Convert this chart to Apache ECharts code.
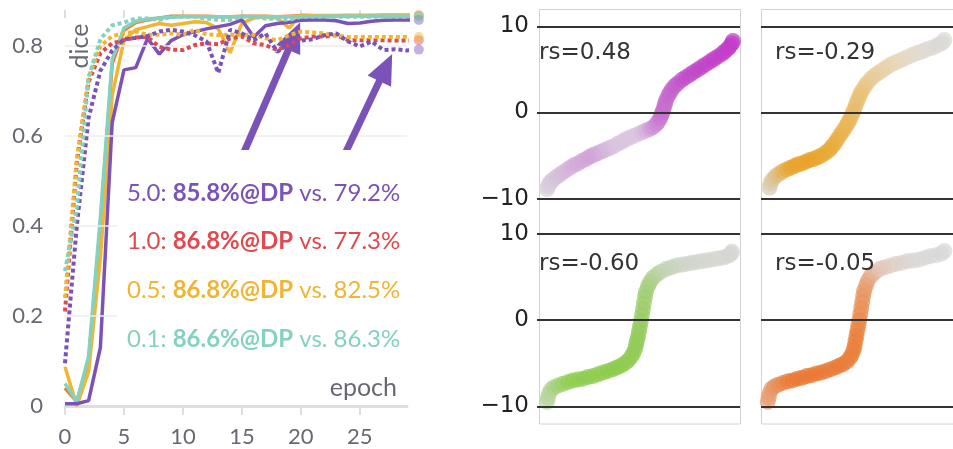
<!DOCTYPE html>
<html>
<head>
<meta charset="utf-8">
<script src="https://cdn.jsdelivr.net/npm/echarts@6/dist/echarts.min.js"></script>
<style>
  html, body { margin: 0; padding: 0; background: #fff; }
  #chart { width: 953px; height: 449px; }
</style>
</head>
<body>
<div id="chart"></div>
<script>
// ---------- training curves (dice per epoch) ----------
const epochs = [0,1,2,3,4,5,6,7,8,9,10,11,12,13,14,15,16,17,18,19,20,21,22,23,24,25,26,27,28,29,30];
const xTicks = [0, 5, 10, 15, 20, 25];
const yTicks = [0, 0.2, 0.4, 0.6, 0.8];

// weight 5.0
const dp50   = [0.005,0.005,0.012,0.13,0.63,0.747,0.752,0.817,0.782,0.812,0.825,0.832,0.838,0.843,0.848,0.858,0.82,0.845,0.85,0.853,0.857,0.858,0.858,0.856,0.85,0.851,0.855,0.857,0.858,0.858,0.858];
const base50 = [0.095,0.40,0.64,0.745,0.79,0.815,0.818,0.822,0.832,0.836,0.832,0.824,0.81,0.74,0.836,0.828,0.813,0.828,0.787,0.805,0.812,0.815,0.824,0.828,0.81,0.799,0.81,0.791,0.793,0.79,0.792];
// weight 1.0
const dp10   = [0.04,0.01,0.10,0.40,0.76,0.835,0.852,0.858,0.862,0.866,0.866,0.866,0.866,0.865,0.865,0.866,0.866,0.866,0.865,0.866,0.867,0.867,0.867,0.867,0.868,0.868,0.868,0.868,0.868,0.868,0.868];
const base10 = [0.21,0.54,0.72,0.784,0.806,0.813,0.819,0.82,0.798,0.792,0.791,0.802,0.806,0.804,0.817,0.821,0.806,0.802,0.791,0.802,0.817,0.821,0.821,0.824,0.813,0.813,0.813,0.813,0.812,0.812,0.813];
// weight 0.5
const dp05   = [0.087,0.0,0.076,0.33,0.69,0.813,0.836,0.843,0.85,0.846,0.85,0.854,0.852,0.838,0.785,0.851,0.862,0.865,0.862,0.84,0.869,0.868,0.868,0.868,0.868,0.868,0.868,0.869,0.869,0.869,0.869];
const base05 = [0.24,0.55,0.73,0.80,0.822,0.828,0.832,0.825,0.825,0.828,0.825,0.836,0.826,0.824,0.825,0.825,0.825,0.817,0.813,0.824,0.832,0.83,0.828,0.823,0.82,0.82,0.82,0.82,0.82,0.82,0.82];
// weight 0.1
const dp01   = [0.05,0.01,0.11,0.42,0.77,0.84,0.855,0.86,0.862,0.864,0.865,0.865,0.865,0.865,0.865,0.865,0.865,0.865,0.865,0.865,0.865,0.865,0.866,0.866,0.866,0.866,0.866,0.866,0.866,0.866,0.866];
const base01 = [0.30,0.44,0.73,0.815,0.846,0.852,0.861,0.861,0.858,0.865,0.865,0.865,0.861,0.858,0.858,0.866,0.865,0.861,0.86,0.858,0.865,0.865,0.865,0.865,0.865,0.865,0.865,0.865,0.865,0.865,0.865];

// legend text
const weights    = ['5.0', '1.0', '0.5', '0.1'];
const dpScores   = ['85.8%', '86.8%', '86.8%', '86.6%'];
const baseScores = ['79.2%', '77.3%', '82.5%', '86.3%'];

// arrows pointing at the final epochs: [tailEpoch, tailDice, tipEpoch, tipDice]
const arrows = [
  [14.12, 0.50, 19.44, 0.822],
  [22.65, 0.50, 27.20, 0.752]
];

// ---------- sorted score curves: [rank, value] ----------
const guideLevels = [-10, 0, 10];
const rsValues = ['0.48', '-0.29', '-0.60', '-0.05'];

const curveA = [[1,-8.9],[2,-8.6],[3,-8.3],[5,-8.0],[7,-7.8],[10,-7.5],[13,-7.3],[16,-7.0],[20,-6.7],[24,-6.4],[28,-6.1],[32,-5.9],[36,-5.6],[40,-5.4],[44,-5.1],[48,-4.9],[52,-4.7],[56,-4.5],[60,-4.3],[64,-4.1],[68,-3.9],[72,-3.6],[76,-3.4],[80,-3.1],[84,-2.9],[88,-2.7],[92,-2.5],[96,-2.3],[100,-2.1],[104,-1.9],[107,-1.7],[110,-1.4],[112,-1.1],[114,-0.7],[115,-0.4],[116,-0.1],[117,0.2],[118,0.6],[119,1.0],[120,1.4],[122,1.9],[124,2.3],[126,2.7],[129,3.1],[132,3.4],[136,3.8],[140,4.1],[144,4.4],[148,4.7],[152,5.0],[156,5.3],[160,5.6],[164,5.9],[168,6.2],[172,6.5],[176,6.8],[179,7.1],[182,7.4],[184,7.7],[186,8.0],[187,8.3]];

const curveB = [[2,-8.7],[3,-8.2],[5,-7.8],[8,-7.4],[12,-7.1],[16,-6.8],[20,-6.6],[24,-6.4],[28,-6.2],[32,-6.0],[36,-5.9],[40,-5.7],[44,-5.5],[48,-5.4],[52,-5.2],[56,-5.0],[60,-4.7],[64,-4.4],[67,-4.0],[70,-3.6],[73,-3.1],[76,-2.6],[79,-2.1],[82,-1.6],[84,-1.2],[86,-0.8],[88,-0.3],[90,0.2],[92,0.8],[94,1.4],[96,1.9],[98,2.4],[101,2.9],[104,3.4],[108,3.9],[112,4.3],[116,4.6],[120,4.9],[124,5.2],[128,5.5],[132,5.7],[136,5.9],[140,6.1],[144,6.3],[148,6.5],[152,6.7],[156,6.9],[160,7.0],[164,7.2],[168,7.4],[172,7.5],[176,7.7],[180,7.9],[183,8.1],[185,8.4]];

const curveC = [[1,-9.5],[2,-9.0],[3,-8.5],[5,-8.1],[8,-7.8],[12,-7.6],[17,-7.4],[22,-7.2],[27,-7.0],[32,-6.9],[37,-6.8],[42,-6.6],[47,-6.5],[52,-6.3],[57,-6.1],[62,-5.9],[67,-5.7],[71,-5.5],[75,-5.3],[79,-5.0],[82,-4.7],[85,-4.3],[87,-3.9],[89,-3.4],[90,-2.9],[91,-2.4],[92,-1.9],[93,-1.3],[94,-0.7],[95,-0.1],[96,0.6],[97,1.3],[98,2.0],[99,2.7],[100,3.3],[102,3.9],[104,4.4],[107,4.9],[111,5.3],[115,5.6],[120,5.9],[125,6.1],[130,6.3],[135,6.4],[140,6.5],[145,6.6],[150,6.7],[155,6.8],[160,6.9],[165,7.0],[170,7.1],[175,7.2],[179,7.3],[183,7.5],[185,7.7],[186,7.9]];

const curveD = [[0,-9.5],[1,-9.0],[2,-8.5],[4,-8.0],[7,-7.7],[11,-7.5],[16,-7.3],[21,-7.1],[26,-7.0],[31,-6.8],[36,-6.7],[41,-6.5],[46,-6.4],[51,-6.2],[56,-6.1],[61,-5.9],[66,-5.7],[71,-5.5],[75,-5.3],[79,-5.1],[83,-4.8],[86,-4.4],[88,-4.0],[90,-3.5],[91,-3.0],[92,-2.4],[93,-1.8],[94,-1.2],[95,-0.6],[96,0.0],[97,0.7],[98,1.4],[99,2.1],[100,2.8],[101,3.4],[103,4.0],[105,4.6],[108,5.1],[112,5.5],[117,5.9],[122,6.1],[128,6.3],[134,6.5],[140,6.6],[146,6.8],[152,6.9],[158,7.0],[164,7.2],[170,7.4],[176,7.5],[182,7.7],[185,8.0]];

// ---------- styling ----------
const COL = { purple: '#7b52b7', red: '#e04a4e', orange: '#ef7c33', yellow: '#f0b532', teal: '#84d1bf' };
const SANS = 'Lato, "Open Sans", sans-serif';
const MPL = '"DejaVu Sans", sans-serif';
const AXIS_GREY = '#686872';

// layout of the small panels
const PANEL = { colLeft: [539, 761], rowTop: [9, 216.5], width: 201, height: 207 };

function curveLine(values, color, dotted, z) {
  const last = values.length - 1;
  return {
    type: 'line',
    xAxisIndex: 0, yAxisIndex: 0,
    data: values.map((v, i) => i === last
      ? { value: [epochs[i], v], symbol: 'circle', symbolSize: 10, itemStyle: { color: color, opacity: 0.45 } }
      : { value: [epochs[i], v], symbol: 'none' }),
    showSymbol: true, showAllSymbol: true,
    clip: false, z: z, silent: true, animation: false,
    lineStyle: { color: color, width: dotted ? 4 : 3.5, type: dotted ? [4, 3] : 'solid', cap: 'butt' },
    itemStyle: { color: color }
  };
}

// horizontal guides of the dice axis (drawn beneath every curve)
const gridGuides = {
  type: 'line', xAxisIndex: 0, yAxisIndex: 0, data: [], z: 1, silent: true,
  markLine: {
    silent: true, animation: false, symbol: 'none', label: { show: false },
    lineStyle: { color: '#ececec', width: 1.5, type: 'solid', opacity: 1 },
    data: yTicks.filter(v => v > 0).map(v => ({ yAxis: v }))
  }
};

const lineSeries = [
  curveLine(dp10,   COL.orange, false, 3),
  curveLine(dp05,   COL.yellow, false, 3),
  curveLine(dp01,   COL.teal,   false, 3),
  curveLine(dp50,   COL.purple, false, 4),
  curveLine(base10, COL.red,    true,  5),
  curveLine(base05, COL.yellow, true,  5),
  curveLine(base50, COL.purple, true,  5),
  curveLine(base01, COL.teal,   true,  6)
];

// arrows on top of the purple line (triangle head: width 26, length 30)
lineSeries[3].markLine = {
  silent: true,
  animation: false,
  symbol: ['none', 'triangle'],
  symbolSize: [26, 30],
  label: { show: false },
  lineStyle: { color: COL.purple, width: 7, type: 'solid', opacity: 1 },
  data: arrows.map(a => [{ coord: [a[0], a[1]] }, { coord: [a[2], a[3]] }])
};

const curves = [curveA, curveB, curveC, curveD];
const panelCells = [[0, 0], [1, 0], [0, 1], [1, 1]]; // [col, row]

const panelGrids = panelCells.map(([c, r]) => ({
  left: PANEL.colLeft[c], top: PANEL.rowTop[r], width: PANEL.width, height: PANEL.height
}));

const panelX = panelCells.map((_, i) => ({
  type: 'value', gridIndex: i + 1, min: -7, max: 194, show: false
}));

const fmtMinus = v => (v < 0 ? '\u2212' + Math.abs(v) : String(v));

const panelY = panelCells.map(([c], i) => ({
  type: 'value', gridIndex: i + 1, min: -12, max: 12,
  splitLine: { show: false },
  axisLine: { show: false },
  axisTick: {
    show: c === 0, customValues: guideLevels, length: 9,
    lineStyle: { color: '#333', width: 2 }
  },
  axisLabel: {
    show: c === 0, customValues: guideLevels, margin: 10,
    formatter: fmtMinus, fontFamily: MPL, fontSize: 23, color: '#222'
  }
}));

const scatterSeries = curves.map((data, i) => ({
  type: 'scatter',
  xAxisIndex: i + 2, yAxisIndex: i + 1,
  data: data,
  symbolSize: 16,
  itemStyle: { opacity: 0.72 },
  silent: true, animation: false, z: 3,
  markLine: {
    silent: true, animation: false, symbol: 'none', label: { show: false },
    lineStyle: { color: '#333', width: 2, type: 'solid', opacity: 1 },
    data: guideLevels.map(v => ({ yAxis: v }))
  }
}));

// colour ramps along the rank axis
const ramps = [
  ['#d9d1dc', '#d4b0da', '#cfa0d6', '#d9c3de', '#dac6df', '#c872cf', '#c04ec8', '#c241c8', '#c23dc8'],
  ['#d8cfc0', '#e8a630', '#e9a228', '#e8ab3a', '#e6bd6c', '#e8cea0', '#e7d8bc', '#e0dbd2', '#dadad8'],
  ['#bcd6a6', '#8fcd52', '#8dcc4c', '#8ccb4c', '#93cb5a', '#c0d2b0', '#cfd4c8', '#d4d5d0', '#d6d6d4'],
  ['#e6a278', '#ea7a36', '#ea7833', '#e97b37', '#e9803c', '#e3c3b2', '#ddd2cc', '#dad8d6', '#d8d8d8']
];

const visualMaps = ramps.map((colors, i) => ({
  type: 'continuous', show: false, seriesIndex: 9 + i, dimension: 0,
  min: 0, max: 187, inRange: { color: colors }
}));

// ---------- decorations ----------
const legendTexts = weights.map((w, i) => {
  const color = [COL.purple, COL.red, COL.yellow, COL.teal][i];
  return {
    type: 'text', x: 127, y: 193 + i * 48.6, z: 60,
    style: {
      text: '{n|' + w + ': }{b|' + dpScores[i] + '@DP}{n| vs. ' + baseScores[i] + '}',
      verticalAlign: 'middle',
      rich: {
        n: { fill: color, fontFamily: SANS, fontSize: 24 },
        b: { fill: color, fontFamily: SANS, fontSize: 24, fontWeight: 'bold' }
      }
    }
  };
});

const rsTexts = panelCells.map(([c, r], i) => ({
  type: 'text', z: 60,
  x: PANEL.colLeft[c] + (c === 0 ? 0 : 14),
  y: PANEL.rowTop[r] + 44 + (r === 1 ? 4 : 0),
  style: {
    text: 'rs=' + rsValues[i], fill: '#333', fontFamily: MPL, fontSize: 23,
    verticalAlign: 'middle'
  }
}));

const frames = [0, 1].map(c => ({
  type: 'rect', z: 0,
  shape: { x: PANEL.colLeft[c] + 0.5, y: PANEL.rowTop[0] + 0.5, width: PANEL.width, height: PANEL.rowTop[1] + PANEL.height - PANEL.rowTop[0] },
  style: { fill: null, stroke: '#d2d2d2', lineWidth: 1 }
}));

const chart = echarts.init(document.getElementById('chart'), null, { renderer: 'canvas' });

chart.setOption({
  animation: false,
  backgroundColor: '#fff',
  grid: [{ left: 65, top: 10, width: 342, height: 396 }].concat(panelGrids),
  xAxis: [
    {
      type: 'value', gridIndex: 0, min: 0, max: 29,
      axisLine: { show: true, lineStyle: { color: '#dedede', width: 3 } },
      axisTick: { show: true, customValues: xTicks, length: 9, lineStyle: { color: '#dedede', width: 2 } },
      axisLabel: { customValues: xTicks, margin: 20, fontFamily: SANS, fontSize: 22, color: AXIS_GREY },
      splitLine: { show: false }
    },
    {
      type: 'value', gridIndex: 0, min: 0, max: 29,
      axisLine: { show: false },
      axisTick: { show: true, inside: true, customValues: xTicks, length: 8, lineStyle: { color: '#dedede', width: 2 } },
      axisLabel: { show: false },
      splitLine: { show: false }
    }
  ].concat(panelX),
  yAxis: [
    {
      type: 'value', gridIndex: 0, min: 0, max: 0.88,
      axisLine: { show: false },
      axisTick: { show: false },
      axisLabel: { customValues: yTicks, margin: 22, fontFamily: SANS, fontSize: 22, color: AXIS_GREY },
      splitLine: { show: false }
    }
  ].concat(panelY),
  visualMap: visualMaps,
  series: [gridGuides].concat(lineSeries, scatterSeries),
  graphic: [
    ...frames,
    { type: 'rect', z: 50, shape: { x: 117, y: 150, width: 290, height: 215 }, style: { fill: '#fff' } },
    ...legendTexts,
    {
      type: 'text', x: 80, y: 46, rotation: Math.PI / 2, z: 60,
      style: { text: 'dice', fill: AXIS_GREY, fontFamily: SANS, fontSize: 25, align: 'center', verticalAlign: 'middle' }
    },
    {
      type: 'text', x: 397, y: 388, z: 60,
      style: { text: 'epoch', fill: AXIS_GREY, fontFamily: SANS, fontSize: 25, align: 'right', verticalAlign: 'middle' }
    },
    ...rsTexts
  ]
});
</script>
</body>
</html>
